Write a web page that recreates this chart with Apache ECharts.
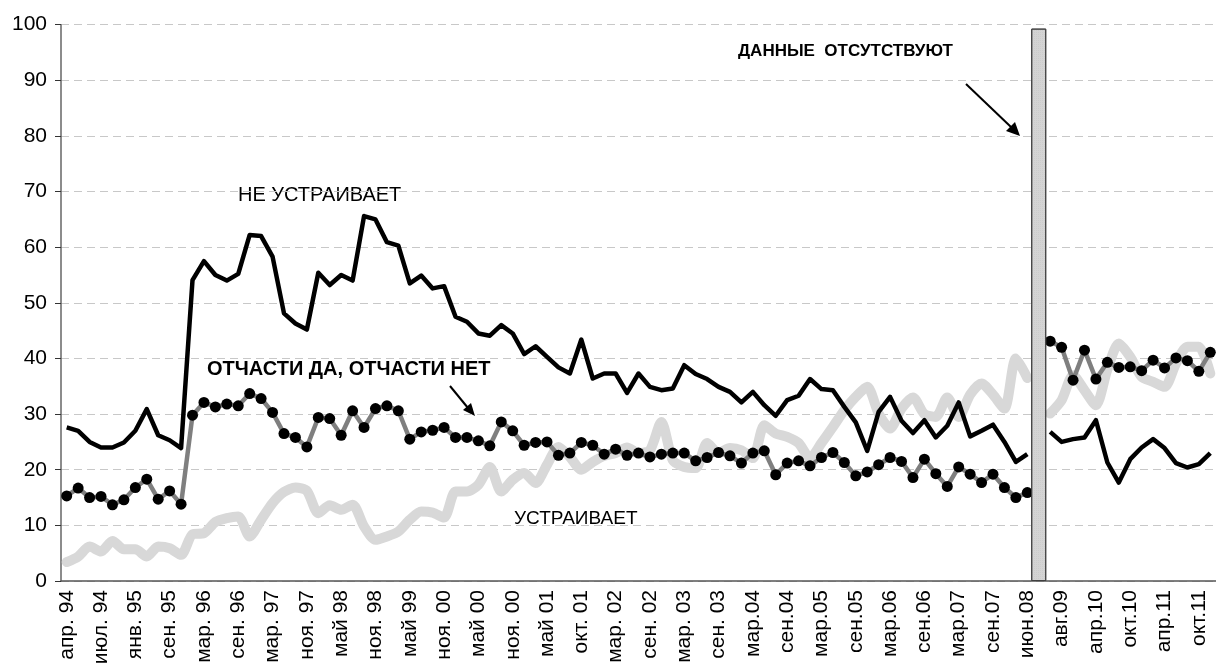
<!DOCTYPE html>
<html>
<head>
<meta charset="utf-8">
<script src="https://cdn.jsdelivr.net/npm/echarts@6/dist/echarts.min.js"></script>
<style>
  html, body { margin: 0; padding: 0; background: #fff; }
  #chart { width: 1216px; height: 671px; }
</style>
</head>
<body>
<div id="chart"></div>
<script>
// подписи оси X (каждая третья волна опроса)
var tickLabels = ['апр. 94', 'июл. 94', 'янв. 95', 'сен. 95', 'мар. 96', 'сен. 96', 'мар. 97', 'ноя. 97',
    'май 98', 'ноя. 98', 'май 99', 'ноя. 00', 'май 00', 'ноя. 00', 'май 01', 'окт. 01', 'мар. 02', 'сен. 02',
    'мар. 03', 'сен. 03', 'мар.04', 'сен.04', 'мар.05', 'сен.05', 'мар.06', 'сен.06', 'мар.07', 'сен.07',
    'июн.08', 'авг.09', 'апр.10', 'окт.10', 'апр.11', 'окт.11'];

var yTicks = [0, 10, 20, 30, 40, 50, 60, 70, 80, 90, 100];

// НЕ УСТРАИВАЕТ
var notSatisfied = [27.6, 27.0, 25.0, 24.0, 24.0, 24.9, 27.0, 30.9, 26.2, 25.3, 23.9,
    54.1, 57.5, 55.0, 54.0, 55.2, 62.2, 62.0, 58.3, 48.1, 46.3, 45.2,
    55.4, 53.2, 55.0, 54.0, 65.6, 65.0, 60.9, 60.3, 53.5, 54.9, 52.6, 53.0,
    47.5, 46.6, 44.5, 44.1, 46.0, 44.5, 40.8, 42.2, 40.3, 38.4, 37.3, 43.4, 36.4, 37.3, 37.3, 33.8,
    37.3, 34.9, 34.3, 34.6, 38.8, 37.2, 36.3, 34.9, 34.0, 32.1, 34.0, 31.6, 29.7, 32.5, 33.3, 36.3,
    34.5, 34.3, 31.3, 28.5, 23.4, 30.4, 33.1,
    28.8, 26.6, 28.9, 25.8, 27.9, 32.1, 26.0, 27.0, 28.1, 25.0, 21.4, 22.8,
    null,
    26.8, 25.0, 25.5, 25.8, 28.9, 21.3, 17.7, 21.9, 24.0, 25.5, 23.9, 21.2, 20.4, 21.0, 23.0];

// ОТЧАСТИ ДА, ОТЧАСТИ НЕТ
var partly = [15.3, 16.7, 15.0, 15.2, 13.7, 14.6, 16.8, 18.3, 14.7, 16.2, 13.8,
    29.8, 32.1, 31.3, 31.8, 31.5, 33.7, 32.8, 30.3, 26.5, 25.8, 24.1,
    29.4, 29.2, 26.2, 30.6, 27.6, 31.0, 31.5, 30.6, 25.5, 26.8, 27.1, 27.6,
    25.8, 25.8, 25.2, 24.3, 28.6, 27.0, 24.4, 24.9, 25.0, 22.6, 23.0, 24.9, 24.4, 22.8, 23.7, 22.6,
    23.0, 22.3, 22.8, 23.0, 23.0, 21.6, 22.2, 23.1, 22.5, 21.2, 23.0, 23.4, 19.1, 21.2, 21.6, 20.7,
    22.2, 23.1, 21.3, 18.9, 19.6, 20.9, 22.2,
    21.5, 18.6, 21.9, 19.3, 17.0, 20.5, 19.2, 17.7, 19.2, 16.8, 15.0, 15.9,
    null,
    43.1, 42.0, 36.1, 41.5, 36.3, 39.3, 38.4, 38.5, 37.8, 39.7, 38.3, 40.1, 39.6, 37.7, 41.1];

// УСТРАИВАЕТ
var satisfied = [3.4, 4.4, 6.2, 5.3, 7.2, 5.7, 5.7, 4.4, 6.2, 5.9, 4.7,
    8.4, 8.6, 10.6, 11.3, 11.6, 8.0, 11.0, 14.0, 16.0, 16.8, 16.2,
    12.2, 13.6, 12.8, 13.7, 9.8, 7.4, 8.0, 8.9, 11.0, 12.5, 12.3, 11.4,
    16.1, 16.1, 17.3, 20.5, 16.1, 18.2, 19.4, 17.6, 20.9, 24.1, 22.3, 20.0, 21.4, 22.5, 23.0, 24.0,
    23.0, 23.5, 28.6, 21.7, 20.5, 20.3, 24.8, 23.0, 23.9, 23.5, 22.1, 28.0, 26.5, 25.9, 24.8, 22.1,
    24.8, 27.7, 30.7, 33.1, 34.9, 30.1, 27.4,
    31.0, 33.0, 30.0, 29.5, 33.0, 29.5, 33.5, 35.5, 33.5, 31.0, 40.0, 36.5,
    null,
    30.1, 32.5, 37.0, 34.3, 31.6, 38.0, 42.7, 40.3, 36.7, 35.8, 34.9, 39.1, 42.1, 42.1, 37.3];

// столбик "данные отсутствуют"
var gapIndex = 85;
var gapValue = 99.3;

var categories = notSatisfied.map(function(v, i) { return String(i); });
var gapBar = categories.map(function(c, i) { return i === gapIndex ? gapValue : null; });

var font = '"Liberation Sans", Arial, sans-serif';

var chart = echarts.init(document.getElementById('chart'));

chart.setOption({
    animation: false,
    backgroundColor: '#ffffff',
    grid: { left: 61, top: 24.7, width: 1157, height: 556.3 },
    xAxis: {
        type: 'category',
        data: categories,
        boundaryGap: true,
        axisLine: { lineStyle: { color: '#555', width: 1.5 } },
        axisTick: { interval: 0, length: 6, lineStyle: { color: '#333' } },
        axisLabel: {
            interval: 2,
            rotate: 90,
            margin: 9,
            fontFamily: font,
            fontSize: 21,
            color: '#000',
            formatter: function(v, idx) { return tickLabels[idx / 3] || ''; }
        },
        splitLine: { show: false }
    },
    yAxis: {
        type: 'value',
        min: yTicks[0],
        max: yTicks[yTicks.length - 1],
        interval: 10,
        axisLine: { show: true, lineStyle: { color: '#666', width: 1.5 } },
        axisTick: { show: true, length: 6, lineStyle: { color: '#333' } },
        axisLabel: { fontFamily: font, fontSize: 21, color: '#000', margin: 14 },
        splitLine: { lineStyle: { color: '#c8c8c8', type: [8, 5], width: 1 } }
    },
    series: [
        {
            name: 'УСТРАИВАЕТ',
            type: 'line',
            data: satisfied,
            symbol: 'none',
            smooth: 0.25,
            z: 2,
            lineStyle: { color: '#d8d8d8', width: 10, cap: 'round', join: 'round' }
        },
        {
            name: 'ОТЧАСТИ ДА, ОТЧАСТИ НЕТ',
            type: 'line',
            data: partly,
            symbol: 'circle',
            symbolSize: 11,
            showAllSymbol: true,
            z: 4,
            lineStyle: { color: '#7f7f7f', width: 4.5 },
            itemStyle: { color: '#000' }
        },
        {
            name: 'НЕ УСТРАИВАЕТ',
            type: 'line',
            data: notSatisfied,
            symbol: 'none',
            z: 3,
            lineStyle: { color: '#000', width: 4.5, join: 'round' }
        },
        {
            name: 'нет данных',
            type: 'bar',
            data: gapBar,
            barWidth: 15,
            z: 5,
            itemStyle: {
                color: '#d4d4d4',
                borderColor: '#404040',
                borderWidth: 1,
                decal: { symbol: 'rect', symbolSize: 0.5, color: 'rgba(150,150,150,0.5)', dashArrayX: [1, 1], dashArrayY: [1, 1] }
            }
        }
    ],
    graphic: [
        { type: 'text', left: 238, top: 185, style: { text: 'НЕ УСТРАИВАЕТ', font: '20px ' + font, fill: '#000' } },
        { type: 'text', left: 207, top: 359, style: { text: 'ОТЧАСТИ ДА, ОТЧАСТИ НЕТ', font: 'bold 20px ' + font, fill: '#000' } },
        { type: 'text', left: 514, top: 509, style: { text: 'УСТРАИВАЕТ', font: '19px ' + font, fill: '#000' } },
        { type: 'text', left: 738, top: 43, style: { text: 'ДАННЫЕ  ОТСУТСТВУЮТ', font: 'bold 17px ' + font, fill: '#000' } },
        { type: 'line', shape: { x1: 450, y1: 386, x2: 468, y2: 408 }, style: { stroke: '#000', lineWidth: 2 } },
        { type: 'polygon', shape: { points: [[475, 416], [463, 410], [471, 403]] }, style: { fill: '#000' } },
        { type: 'line', shape: { x1: 966, y1: 84, x2: 1011, y2: 127 }, style: { stroke: '#000', lineWidth: 2 } },
        { type: 'polygon', shape: { points: [[1020, 136], [1006, 131], [1015, 122]] }, style: { fill: '#000' } }
    ]
});
</script>
</body>
</html>
